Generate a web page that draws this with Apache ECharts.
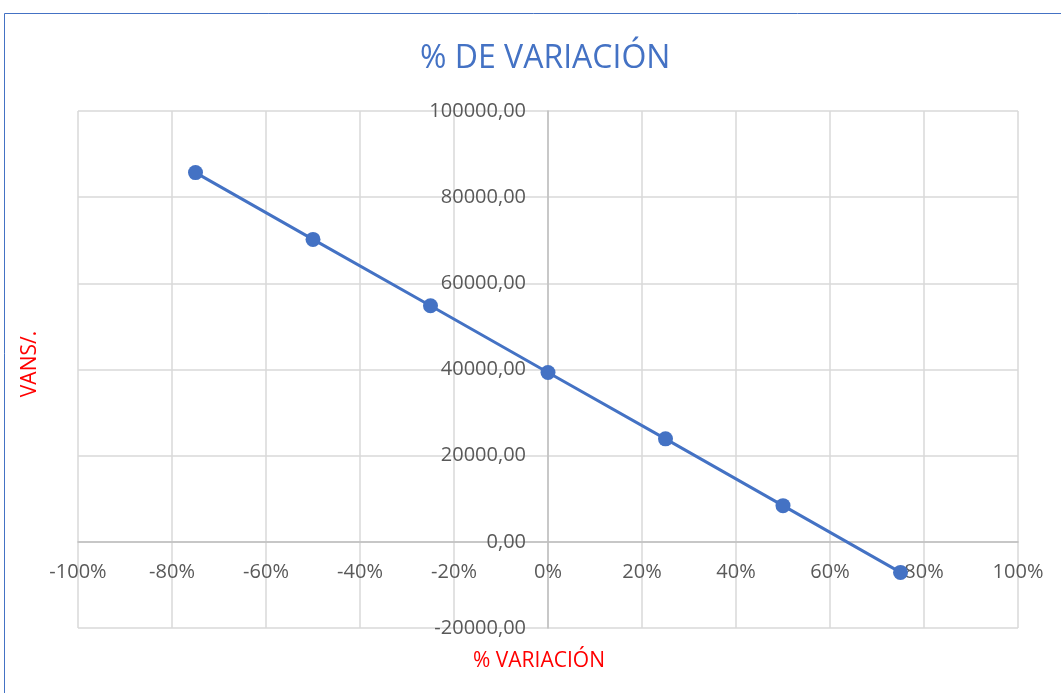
<!DOCTYPE html>
<html>
<head>
<meta charset="utf-8">
<script src="https://cdn.jsdelivr.net/npm/echarts@6/dist/echarts.min.js"></script>
<style>
  html, body { margin: 0; padding: 0; background: #fff; }
  #chart { width: 1061px; height: 693px; }
</style>
</head>
<body>
<div id="chart"></div>
<script>
// % de variación (eje x) y VAN S/. (eje y)
const variacion = [-0.75, -0.5, -0.25, 0, 0.25, 0.5, 0.75];
const van = [85700, 70200, 54800, 39300, 23900, 8400, -7100];

const xTicks = { min: -1, max: 1, interval: 0.2 };
const yTicks = { min: -20000, max: 100000, interval: 20000 };

const gridBox = { left: 78, right: 43, top: 111, bottom: 65 };
const W = 1061, H = 693;
const plotW = W - gridBox.left - gridBox.right;
const plotH = H - gridBox.top - gridBox.bottom;
// axes cross at zero, so shift each axis (line + labels) inward to the zero position
const yAxisOffset = -((0 - xTicks.min) / (xTicks.max - xTicks.min)) * plotW;
const xAxisOffset = -((0 - yTicks.min) / (yTicks.max - yTicks.min)) * plotH;

const myChart = echarts.init(document.getElementById('chart'));
const font = '"Open Sans", "Liberation Sans", sans-serif';

const option = {
  backgroundColor: '#fff',
  textStyle: { fontFamily: font },
  title: [
    {
      text: '% DE VARIACIÓN',
      left: 415,
      top: 38,
      textStyle: { color: '#4472C4', fontSize: 32, fontWeight: 'normal', fontFamily: font }
    },
    {
      text: '% VARIACIÓN',
      left: 468,
      top: 646,
      textStyle: { color: '#FF0000', fontSize: 21, fontWeight: 'normal', fontFamily: font }
    }
  ],
  graphic: [
    {
      type: 'rect',
      shape: { x: 4.5, y: 13.5, width: 1100, height: 700 },
      style: { fill: 'none', stroke: '#4472C4', lineWidth: 1 }
    },
    {
      type: 'text',
      x: 30,
      y: 364,
      rotation: Math.PI / 2,
      style: {
        text: 'VANS/.',
        fill: '#FF0000',
        font: '21px ' + font,
        align: 'center',
        verticalAlign: 'middle'
      }
    }
  ],
  grid: Object.assign({ containLabel: false, outerBoundsMode: 'none' }, gridBox),
  xAxis: {
    type: 'value',
    min: xTicks.min,
    max: xTicks.max,
    interval: xTicks.interval,
    offset: xAxisOffset,
    axisLine: { show: true, onZero: false, lineStyle: { color: '#BFBFBF', width: 1.5 } },
    axisTick: { show: false },
    axisLabel: {
      color: '#595959',
      fontSize: 20,
      margin: 20,
      formatter: v => Math.round(v * 100) + '%'
    },
    splitLine: { show: true, lineStyle: { color: '#D9D9D9', width: 1.5 } }
  },
  yAxis: {
    type: 'value',
    min: yTicks.min,
    max: yTicks.max,
    interval: yTicks.interval,
    offset: yAxisOffset,
    axisLine: { show: true, onZero: false, lineStyle: { color: '#BFBFBF', width: 1.5 } },
    axisTick: { show: false },
    axisLabel: {
      color: '#595959',
      fontSize: 20,
      margin: 22,
      formatter: v => v.toFixed(2).replace('.', ',')
    },
    splitLine: { show: true, lineStyle: { color: '#D9D9D9', width: 1.5 } }
  },
  series: [
    {
      type: 'line',
      data: variacion.map((x, i) => [x, van[i]]),
      symbol: 'circle',
      symbolSize: 15,
      itemStyle: { color: '#4472C4' },
      lineStyle: { color: '#4472C4', width: 3 },
      animation: false,
      z: 5
    }
  ]
};

myChart.setOption(option);
</script>
</body>
</html>
